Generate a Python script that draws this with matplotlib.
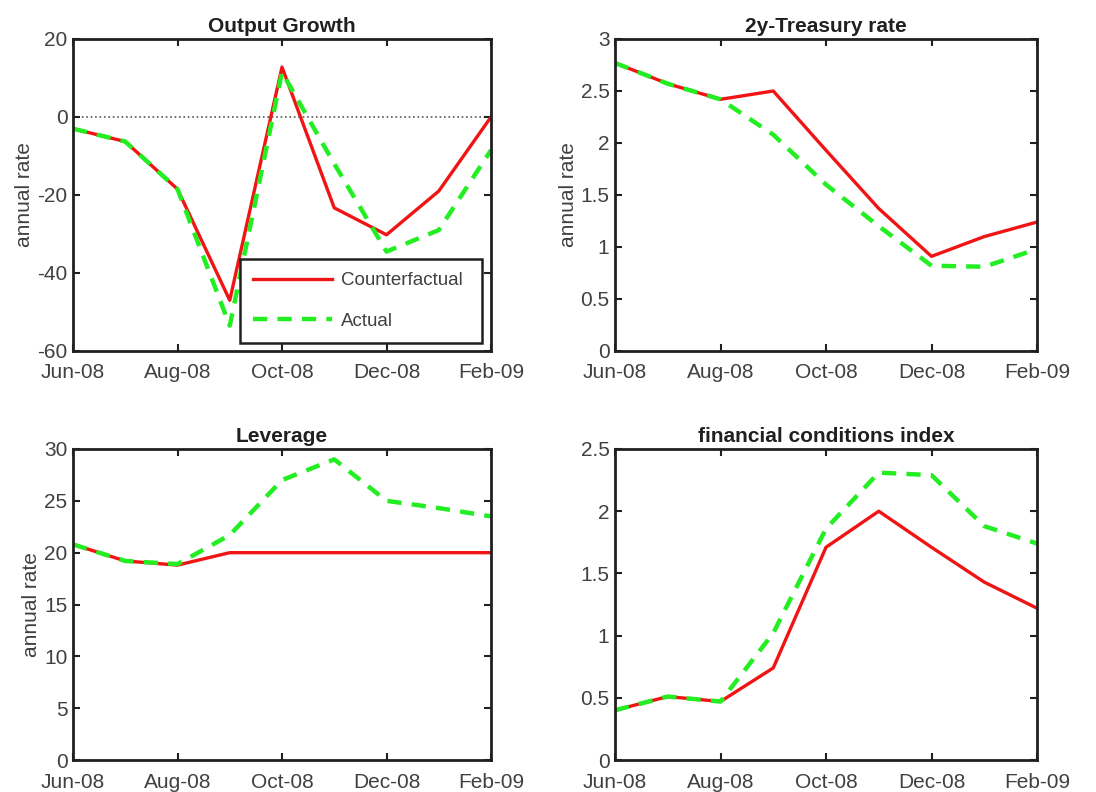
import numpy as np
import matplotlib
matplotlib.use('Agg')
import matplotlib.pyplot as plt

plt.rcParams['font.family'] = ['Liberation Sans', 'DejaVu Sans']

# monthly observations Jun-08 ... Feb-09
months = ['Jun-08', 'Jul-08', 'Aug-08', 'Sep-08', 'Oct-08', 'Nov-08', 'Dec-08', 'Jan-09', 'Feb-09']
tick_labels = ['Jun-08', 'Aug-08', 'Oct-08', 'Dec-08', 'Feb-09']

# Output growth
growth_cf = [-3, -6.3, -18.5, -47, 12.8, -23.3, -30.2, -19, 0]
growth_act = [-3, -6.3, -18.5, -53.5, 11.5, -12, -34.5, -29, -8.5]

# 2y treasury
tsy_cf = [2.77, 2.57, 2.42, 2.50, 1.93, 1.37, 0.91, 1.10, 1.24]
tsy_act = [2.77, 2.57, 2.42, 2.08, 1.60, 1.20, 0.82, 0.81, 0.98]

# leverage
lev_cf = [20.8, 19.2, 18.8, 20.0, 20.0, 20.0, 20.0, 20.0, 20.0]
lev_act = [20.8, 19.2, 18.9, 21.7, 27.0, 29.0, 25.0, 24.3, 23.5]

# financial conditions index
fci_cf = [0.40, 0.51, 0.47, 0.74, 1.71, 2.00, 1.71, 1.43, 1.22]
fci_act = [0.40, 0.51, 0.47, 1.02, 1.86, 2.31, 2.29, 1.88, 1.74]

red = '#f01414'
green = '#22ee22'
gray = '#404040'

fig = plt.figure(figsize=(10.96, 7.92), dpi=100)
W, H = 1096, 792

def make_axes(x0, y0, x1, y1):
    return fig.add_axes([x0 / W, 1 - y1 / H, (x1 - x0) / W, (y1 - y0) / H])

ax1 = make_axes(73, 39, 491, 351)
ax2 = make_axes(615, 39, 1037, 351)
ax3 = make_axes(73, 449, 491, 760)
ax4 = make_axes(615, 449, 1037, 760)

x = np.arange(len(months))
tick_pos = [months.index(m) for m in tick_labels]

panels = [
    (ax1, growth_cf, growth_act, 'Output Growth', (-60, 20), np.arange(-60, 21, 20), True),
    (ax2, tsy_cf, tsy_act, '2y-Treasury rate', (0, 3), np.arange(0, 3.01, 0.5), True),
    (ax3, lev_cf, lev_act, 'Leverage', (0, 30), np.arange(0, 31, 5), True),
    (ax4, fci_cf, fci_act, 'financial conditions index', (0, 2.5), np.arange(0, 2.51, 0.5), False),
]

for ax, cf, act, title, ylim, yticks, ylab in panels:
    ax.plot(x, cf, color=red, lw=2.4, label='Counterfactual')
    ax.plot(x, act, color=green, lw=3.2, ls=(0, (3.2, 2.3)), label='Actual')
    ax.set_xlim(0, 8)
    ax.set_ylim(*ylim)
    ax.set_xticks(tick_pos)
    ax.set_xticklabels(tick_labels)
    ax.set_yticks(yticks)
    ax.set_yticklabels(['%g' % v for v in yticks])
    ax.tick_params(direction='in', top=True, right=True, length=5, width=1.5,
                   labelsize=15, colors='#202020', labelcolor=gray)
    ax.tick_params(axis='x', pad=9)
    ax.tick_params(axis='y', pad=4)
    for s in ax.spines.values():
        s.set_linewidth(2)
        s.set_color('#202020')
    ax.set_title(title, fontsize=15, fontweight='bold', pad=5, color='#202020')
    if ylab:
        ax.set_ylabel('annual rate', fontsize=15, color=gray, labelpad=2)

ax1.axhline(0, color='#555555', lw=1.2, ls=':', zorder=1)

leg = ax1.legend(loc='lower left', bbox_to_anchor=(0.40, 0.026, 0.578, 0.30), mode='expand',
                 fontsize=13.5, handlelength=4.2, handletextpad=0.5, borderaxespad=0,
                 fancybox=False, framealpha=1, edgecolor='#202020', labelspacing=1.25,
                 borderpad=0.7)
leg.get_frame().set_linewidth(1.8)
for t in leg.get_texts():
    t.set_color(gray)

fig.savefig('out.png', dpi=100)
